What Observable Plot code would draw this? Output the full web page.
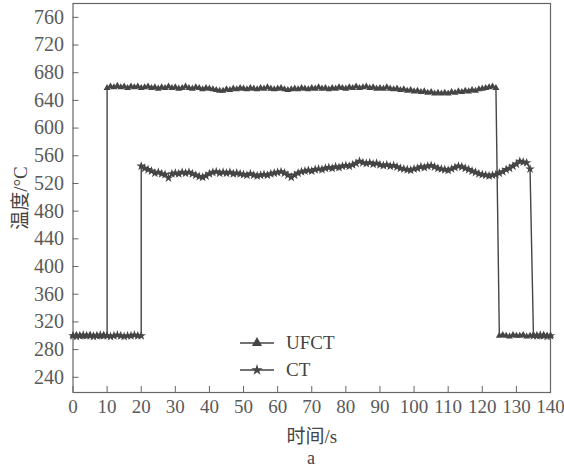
<!DOCTYPE html>
<html>
<head>
<meta charset="utf-8">
<script src="https://cdn.jsdelivr.net/npm/d3@7"></script>
<script src="https://cdn.jsdelivr.net/npm/@observablehq/plot@0.6"></script>
<style>
  html, body { margin: 0; padding: 0; background: #fff; }
  #wrap { position: relative; width: 564px; height: 469px; font-family: "Liberation Serif", "Times New Roman", serif; color: #555; }
  #legend { position: absolute; left: 240px; top: 329px; font-size: 19px; line-height: 27px; color: #444; }
  #legend div { display: flex; align-items: center; height: 27px; }
  #legend svg { margin-right: 12px; }
  #caption { position: absolute; left: 0; width: 622px; top: 448px; text-align: center; font-size: 18px; color: #444; }
</style>
</head>
<body>
<div id="wrap">
  <div id="chart"></div>
  <div id="legend"></div>
  <div id="caption">a</div>
</div>
<script>
// ---- data ----
const seriesNames = ["UFCT", "CT"];
const xTicks = [0,10,20,30,40,50,60,70,80,90,100,110,120,130,140];
const yTicks = [240,280,320,360,400,440,480,520,560,600,640,680,720,760];

const ufctTime = [
  0,1,2,3,4,5,6,7,8,9,10,
  10,11,12,13,14,15,16,17,18,19,20,21,22,23,24,25,26,27,28,29,30,31,32,33,34,35,36,37,38,39,
  40,41,42,43,44,45,46,47,48,49,50,51,52,53,54,55,56,57,58,59,60,61,62,63,64,65,66,67,68,69,
  70,71,72,73,74,75,76,77,78,79,80,81,82,83,84,85,86,87,88,89,90,91,92,93,94,95,96,97,98,99,
  100,101,102,103,104,105,106,107,108,109,110,111,112,113,114,115,116,117,118,119,120,121,122,123,124,
  125,126,127,128,129,130,131,132,133,134,135,136,137,138,139,140
];
const ufctTemp = [
  300,301,300,299,300,301,300,300,299,301,300,
  658,660,659,661,659,660,658,660,659,660,658,659,660,658,659,657,659,658,660,658,659,657,658,660,658,657,659,658,656,658,
  657,656,655,654,654,656,655,657,656,658,657,656,658,657,656,658,657,659,657,656,657,658,656,655,656,657,656,658,657,656,
  658,657,659,657,658,656,658,657,659,658,657,659,658,660,658,659,660,658,659,657,658,657,659,657,656,657,655,656,654,655,
  653,654,652,653,651,652,650,651,650,651,650,652,651,653,652,654,653,655,654,656,657,658,659,660,658,
  300,301,300,299,301,300,300,301,299,300,301,300,299,301,300,300
];

const ctTime = [
  0,1,2,3,4,5,6,7,8,9,10,11,12,13,14,15,16,17,18,19,20,
  20,21,22,23,24,25,26,27,28,29,30,31,32,33,34,35,36,37,38,39,
  40,41,42,43,44,45,46,47,48,49,50,51,52,53,54,55,56,57,58,59,60,61,62,63,64,65,66,67,68,69,
  70,71,72,73,74,75,76,77,78,79,80,81,82,83,84,85,86,87,88,89,90,91,92,93,94,95,96,97,98,99,
  100,101,102,103,104,105,106,107,108,109,110,111,112,113,114,115,116,117,118,119,
  120,121,122,123,124,125,126,127,128,129,130,131,132,133,134,
  135,136,137,138,139,140
];
const ctTemp = [
  300,299,300,301,300,300,299,300,301,300,300,299,300,301,300,299,300,300,301,300,300,
  545,542,540,538,535,536,534,533,528,534,535,534,536,535,536,534,532,530,529,531,
  534,536,537,535,536,535,536,534,535,534,533,532,534,532,531,532,533,532,534,535,536,537,535,532,529,532,535,537,538,539,
  538,540,541,540,542,543,542,544,543,545,546,545,547,549,552,550,549,550,548,549,547,546,547,545,546,544,542,541,540,539,
  541,542,544,543,545,546,544,542,541,540,539,541,543,545,544,542,540,538,536,534,
  533,532,531,532,533,535,537,540,542,545,548,552,551,550,541,
  300,300,301,300,299,300
];

// ---- table built from the arrays ----
const rows = [
  ...ufctTime.map((t, i) => ({series: seriesNames[0], time: t, temp: ufctTemp[i]})),
  ...ctTime.map((t, i) => ({series: seriesNames[1], time: t, temp: ctTemp[i]}))
];
const ufctRows = rows.filter(d => d.series === "UFCT");
const ctRows = rows.filter(d => d.series === "CT");

const ink = "#454545";
const textInk = "#5a5a5a";
const latinSerif = "Liberation Serif, Times New Roman, serif";
const cjkFont = "Liberation Serif, Noto Sans CJK SC, sans-serif";

const chart = Plot.plot({
  width: 564,
  height: 450,
  marginLeft: 72.5,
  marginRight: 14,
  marginTop: 3,
  marginBottom: 58,
  style: {fontFamily: latinSerif, fontSize: "18px", color: textInk, background: "#fff"},
  x: {domain: [0, 140]},
  y: {domain: [218, 780]},
  marks: [
    Plot.frame({stroke: "#666", strokeWidth: 1.2}),
    Plot.axisX({ticks: xTicks, tickSize: -6, tickPadding: 13, tickFormat: d => `${d}`,
      fontSize: 19, fontFamily: latinSerif, fontVariant: "normal", stroke: "#666", fill: textInk,
      label: null}),
    Plot.axisX({ticks: [], tickSize: 0, fontFamily: cjkFont, fontSize: 19, fill: "#444",
      label: "时间/s", labelAnchor: "center", labelArrow: "none", labelOffset: 50}),
    Plot.axisY({ticks: yTicks, tickSize: -6, tickPadding: 15, tickFormat: d => `${d}`,
      fontSize: 20, fontFamily: latinSerif, fontVariant: "normal", stroke: "#666", fill: textInk,
      label: null}),
    Plot.axisY({ticks: [], tickSize: 0, fontFamily: cjkFont, fontSize: 19, fill: "#444",
      label: "温度/°C", labelAnchor: "center", labelArrow: "none", labelOffset: 60}),
    Plot.line(ufctRows, {x: "time", y: "temp", stroke: ink, strokeWidth: 1.4}),
    Plot.line(ctRows, {x: "time", y: "temp", stroke: ink, strokeWidth: 1.4}),
    Plot.dot(ufctRows, {x: "time", y: "temp", symbol: "triangle", r: 2.6, fill: ink, stroke: "none"}),
    Plot.dot(ctRows, {x: "time", y: "temp", symbol: "star", r: 3, fill: ink, stroke: "none"})
  ]
});
document.getElementById("chart").appendChild(chart);

// legend (HTML overlay)
const legend = document.getElementById("legend");
const symbols = [d3.symbolTriangle, d3.symbolStar];
seriesNames.forEach((name, i) => {
  const row = document.createElement("div");
  const svg = d3.create("svg").attr("width", 34).attr("height", 12);
  svg.append("line").attr("x1", 0).attr("x2", 34).attr("y1", 6).attr("y2", 6).attr("stroke", ink).attr("stroke-width", 1.6);
  svg.append("path").attr("transform", "translate(17,6)").attr("d", d3.symbol(symbols[i], i === 0 ? 45 : 40)()).attr("fill", ink);
  row.appendChild(svg.node());
  const label = document.createElement("span");
  label.textContent = name;
  row.appendChild(label);
  legend.appendChild(row);
});
</script>
</body>
</html>
